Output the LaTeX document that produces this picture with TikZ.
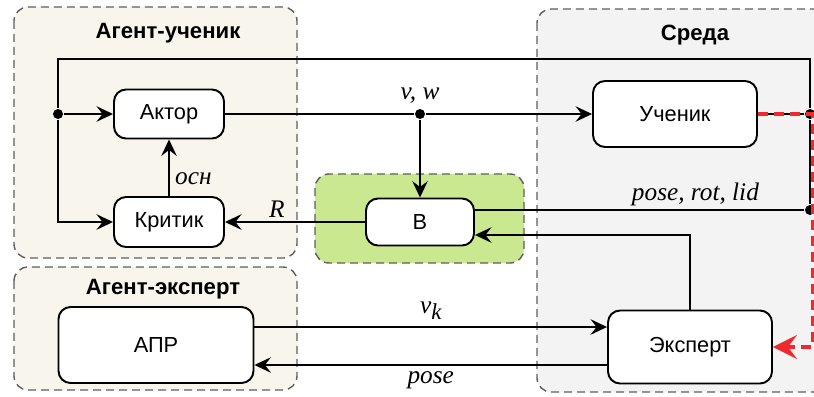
\documentclass[tikz,border=0pt]{standalone}
\usepackage{fontspec}
\setmainfont{Liberation Sans}
\newfontfamily\lblfont{Liberation Serif}
\usetikzlibrary{positioning,calc,arrows.meta}
\definecolor{agentbg}{HTML}{F8F5EC}
\definecolor{envbg}{HTML}{F3F3F3}
\definecolor{bufbg}{HTML}{C9E890}
\definecolor{groupline}{HTML}{5E5E5E}
\definecolor{expertred}{HTML}{EE2A2E}

\begin{document}
\begin{tikzpicture}[
  x=0.02cm, y=-0.02cm,
  >={Stealth[length=3.3mm, width=3.1mm, inset=1.2mm]},
  line width=1.1pt,
  block/.style={draw, fill=white, rounded corners=0.24cm, align=center, inner sep=2pt, font=\fontsize{12.4}{14}\selectfont},
  group/.style={draw=groupline, line width=0.8pt, dash pattern=on 0.16cm off 0.1cm, rounded corners=0.28cm},
  title/.style={font=\fontsize{12.6}{14}\selectfont\bfseries},
  lbl/.style={font=\lblfont\itshape\fontsize{14.4}{16}\selectfont, inner sep=1pt},
  dot/.style={circle, fill, inner sep=0pt, minimum size=0.2cm},
  reddash/.style={draw=expertred, line width=1.8pt, dash pattern=on 0.2cm off 0.12cm}
]

\clip (0,0) rectangle (814,396);

% containers
\draw[group, fill=agentbg] (14,7) rectangle (297,258);
\draw[group, fill=agentbg] (14,267) rectangle (297,390);
\draw[group, fill=envbg]   (537,9) rectangle (850,392);
\draw[group, fill=bufbg]   (315,174) rectangle (524,263);

\node[title] (tstud) at (168,33)  {Агент-ученик};
\node[title] (texp)  at (163,289) {Агент-эксперт};
\node[title] (tenv)  at (695,35)  {Среда};

% blocks
\node[block, minimum width=2.2cm, minimum height=0.98cm]  (actor)   at (169,114) {Актор};
\node[block, minimum width=2.2cm, minimum height=1cm]     (critic)  at (169,222) {Критик};
\node[block, minimum width=2.16cm, minimum height=0.94cm] (buf)     at (420,222) {В};
\node[block, minimum width=3.28cm, minimum height=1.32cm] (learner) at (675,114) {Ученик};
\node[block, minimum width=3.28cm, minimum height=1.46cm] (expert)  at (690,347) {Эксперт};
\node[block, minimum width=3.9cm, minimum height=1.52cm]  (apr)     at (156,345) {АПР};

% junctions
\node[dot] (vw)   at (420,114) {};
\node[dot] (ret)  at (810,114) {};
\node[dot] (obs)  at (810,210) {};
\node[dot] (fork) at (58,114)  {};
\coordinate (topleft) at (58,59);

\node[lbl, above=1pt of vw] (vwlbl) {v, w};

% student loop
\draw (actor) -- (vw);
\draw[->] (vw) -- (learner);
\draw[->] (vw) -- (buf);
\draw (learner) -- (ret);
\draw (ret) -- (obs);
\draw (ret) |- (topleft) -- (fork);
\draw[->] (fork) -- (actor);
\draw[->] (fork) |- (critic);
\draw[->] (critic) -- (actor) node[lbl, pos=0.3, right=2pt] {осн};
\draw (obs) -- (obs -| buf.east) node[lbl, pos=0.33, above=1pt] {pose, rot, lid};
\draw[->] (buf) -- (critic) node[lbl, pos=0.63, above=1pt] {R};
\draw[->] (expert) |- ($(buf.east)+(0,13)$);

% expert
\draw[->] (apr.east |- 0,327) -- (expert.west |- 0,327)
  node[lbl, midway, above=3pt] {v\raisebox{-0.5ex}{\fontsize{13}{14}\selectfont k}};
\draw[->] (expert.west |- 0,365) -- (apr.east |- 0,365) node[lbl, midway, below=2pt] {pose};
\draw[reddash, -{Stealth[length=4.8mm, width=4.8mm, inset=1.8mm]}]
  (learner.east) -- ([xshift=1.2pt]ret.center) |- (expert);

\end{tikzpicture}
\end{document}
